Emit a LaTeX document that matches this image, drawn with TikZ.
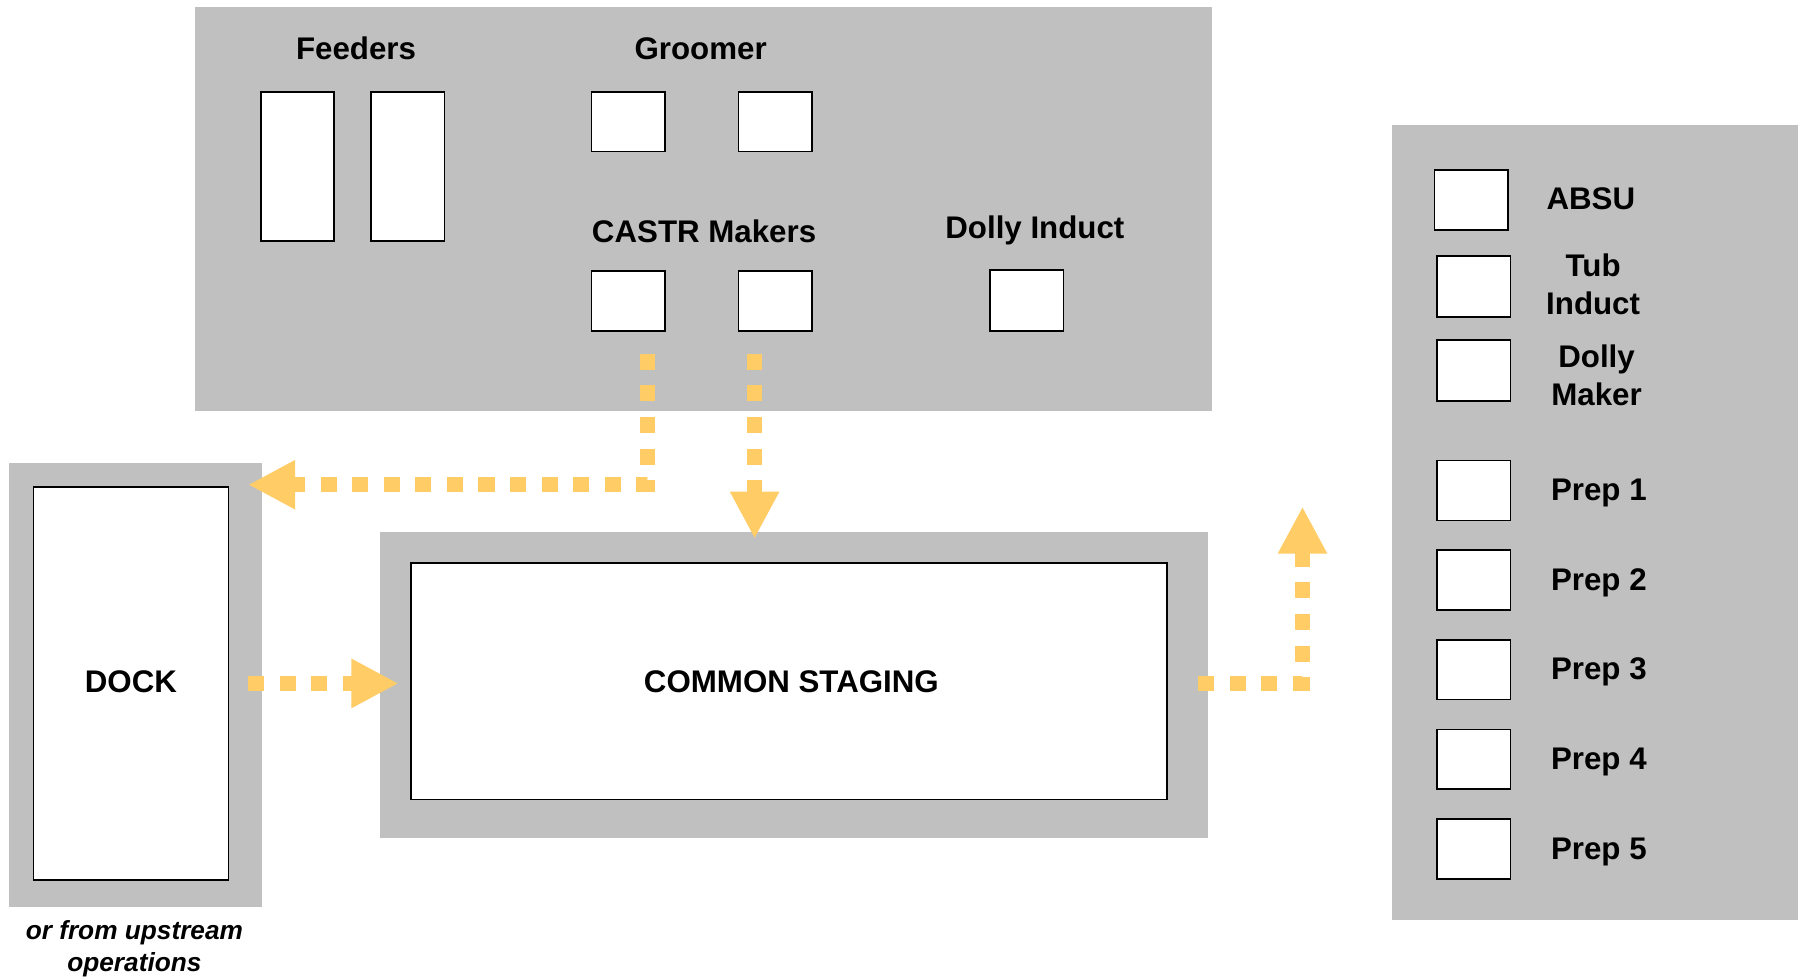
\documentclass[tikz,border=0pt]{standalone}
\usepackage{fontspec}
\setmainfont{Liberation Sans}
\usetikzlibrary{arrows.meta}
\definecolor{panelgray}{RGB}{192,192,192}
\definecolor{flowyellow}{RGB}{255,204,102}

\begin{document}
\begin{tikzpicture}[x=0.02cm, y=-0.02cm, line join=miter,
    panel/.style={fill=panelgray},
    unit/.style={draw=black, line width=0.8pt, fill=white},
    lbl/.style={font=\fontsize{15.5}{18.7}\selectfont\bfseries, align=center, inner sep=0pt},
    flow/.style={draw=flowyellow, line width=0.26cm, dash pattern=on 0.28cm off 0.27cm,
        -{Triangle[length=0.82cm, width=0.8cm]}}]
	\useasboundingbox (0,0) rectangle (1568,850);
	% gray areas
	\fill[panel] (170,6) rectangle (1055,358);
	\fill[panel] (8,403) rectangle (228,790);
	\fill[panel] (331,463) rectangle (1052,730);
	\fill[panel] (1212,109) rectangle (1565,801);
	% top area
	\node[lbl, anchor=base] (feeders) at (310,52) {Feeders};
	\draw[unit] (227,80) rectangle (291,210);
	\draw[unit] (323,80) rectangle (387,210);
	\node[lbl, anchor=base] (groomer) at (610,52) {Groomer};
	\draw[unit] (515,80) rectangle (579,132);
	\draw[unit] (643,80) rectangle (707,132);
	\node[lbl, anchor=base] (castr) at (613,211) {CASTR Makers};
	\draw[unit] (515,236) rectangle (579,288);
	\draw[unit] (643,236) rectangle (707,288);
	\node[lbl, anchor=base] (dollyind) at (901,208) {Dolly Induct};
	\draw[unit] (862,235) rectangle (926,288);
	% dock and staging
	\draw[unit] (29,424) rectangle (199,766);
	\node[lbl, anchor=base] (dock) at (114,603) {DOCK};
	\node[lbl, anchor=north, font=\fontsize{13}{15.9}\selectfont\bfseries\itshape] (upstream) at (117,801) {or from upstream\\operations};
	\draw[unit] (358,490) rectangle (1016,696);
	\node[lbl, anchor=base] (staging) at (689,603) {COMMON STAGING};
	% right area
	\draw[unit] (1249,148) rectangle (1313,200);
	\node[lbl, anchor=base] (absu) at (1385,182) {ABSU};
	\draw[unit] (1251,223) rectangle (1315,276);
	\node[lbl, anchor=north] (tub) at (1387,221) {Tub\\Induct};
	\draw[unit] (1251,296) rectangle (1315,349);
	\node[lbl, anchor=north] (dollymk) at (1390,300) {Dolly\\Maker};
	\foreach \n [evaluate=\n as \yt using 401+78*(\n-1)] in {1,...,5} {
		\draw[unit] (1251,\yt) rectangle (1315,\yt+52);
		\node[lbl, anchor=base] (prep\n) at (1392,\yt+35) {Prep \n};
	}
	% flows
	\coordinate (castrout1) at (564,308);
	\coordinate (castrout2) at (657,308);
	\coordinate (dockin) at (216,422);
	\coordinate (stagein) at (657,469);
	\coordinate (dockout) at (216,595);
	\coordinate (stagein2) at (347,595);
	\coordinate (stageout) at (1043,595);
	\coordinate (prepin) at (1134,441);
	\draw[flow] (castrout1) |- (dockin);
	\draw[flow] (castrout2) -- (stagein);
	\draw[flow] (dockout) -- (stagein2);
	\draw[flow] (stageout) -| (prepin);
\end{tikzpicture}
\end{document}
